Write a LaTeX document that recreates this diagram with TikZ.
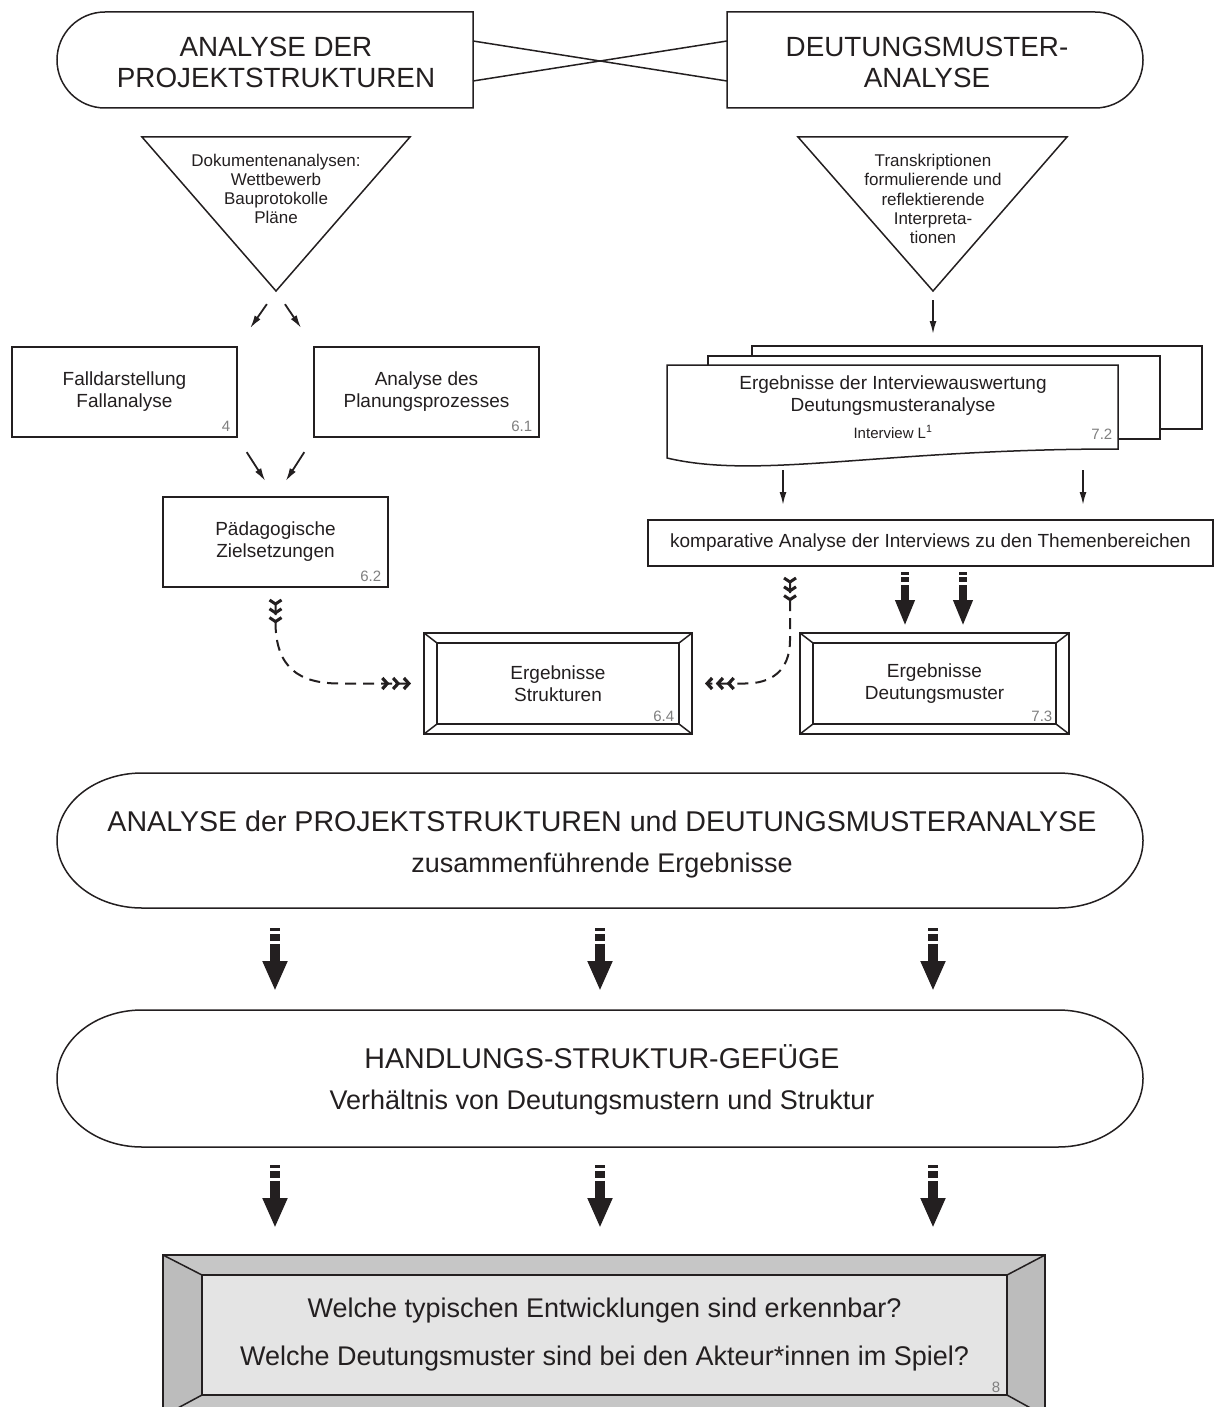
\documentclass[tikz,border=0pt]{standalone}
\usepackage{fontspec}
\setmainfont{Liberation Sans}
\usetikzlibrary{arrows.meta,calc,shapes.misc}
\definecolor{ink}{HTML}{231F20}
\definecolor{numgray}{HTML}{7F7F7F}
\definecolor{bevtop}{HTML}{C6C6C6}
\definecolor{bevside}{HTML}{BCBCBC}
\definecolor{qfill}{HTML}{E4E4E4}
\newcommand\myfs[2]{\fontsize{#1}{#2}\selectfont}
\newcommand\bevelframe[3]{%
  \draw ($(#1.north west)+(#2,#3)$) rectangle ($(#1.south east)+(-#2,-#3)$);
  \draw (#1.north west) -- ++(#2,#3);
  \draw (#1.north east) -- ++(-#2,#3);
  \draw (#1.south west) -- ++(#2,-#3);
  \draw (#1.south east) -- ++(-#2,-#3);}
\begin{document}
\begin{tikzpicture}[x=1pt,y=-1pt,line width=1.5pt,color=ink,
  title/.style={align=center,inner sep=0pt,font=\myfs{27.8}{31}},
  half/.style={draw,rounded rectangle,minimum width=416pt,minimum height=96pt,inner sep=0pt,outer sep=0pt},
  box/.style={draw,rectangle,inner sep=0pt,outer sep=0pt,align=center,font=\myfs{19}{22},fill=white},
  num/.style={inner sep=0pt,text=numgray,font=\myfs{15}{17},anchor=south east},
  tri/.style={align=center,inner sep=0pt,font=\myfs{17}{19.25}},
  big/.style={align=center,inner sep=0pt,font=\myfs{27}{41}},
  thinarr/.style={line width=1.8pt,-{Latex[length=13pt,width=7pt]}},
  bigarr/.style={line width=10pt,dash pattern=on 2.7pt off 3.3pt on 6.5pt off 3.3pt on 200pt,-{Triangle[length=30pt,width=23pt]}},
  midarr/.style={line width=8pt,dash pattern=on 3.3pt off 1.7pt on 5pt off 3pt on 200pt,-{Triangle[length=26pt,width=18pt]}},
  dashconn/.style={line width=2pt,dash pattern=on 11pt off 7pt,
    {Straight Barb[reversed,length=4pt,width=12pt,line width=3pt,sep=1.5pt]Straight Barb[reversed,length=4pt,width=12pt,line width=3pt,sep=1.5pt]Straight Barb[reversed,length=4pt,width=12pt,line width=3pt,sep=1.5pt]}-{Straight Barb[length=5pt,width=11pt,line width=3.2pt,sep=2pt]Straight Barb[length=5pt,width=11pt,line width=3.2pt,sep=2pt]Straight Barb[length=5pt,width=11pt,line width=3.2pt,sep=2pt]}}
]
\useasboundingbox (0,0) rectangle (1215,1407);

% --- top titles
\node[half,rounded rectangle right arc=none] (apr) at (265,60) {};
\node[title] (aprT) at (276,62.5) {ANALYSE DER\\PROJEKTSTRUKTUREN};
\node[half,rounded rectangle left arc=none] (dma) at (935,60) {};
\node[title] (dmaT) at (927,62.5) {DEUTUNGSMUSTER-\\ANALYSE};
\draw ($(apr.east)+(0,-19)$) -- ($(dma.west)+(0,21)$);
\draw ($(apr.east)+(0,21)$) -- ($(dma.west)+(0,-19)$);

% --- triangles
\draw (142,137) -- (410,137) -- (276,291) -- cycle;
\coordinate (t1) at (276,291);
\node[tri] (t1T) at (276,189) {Dokumentenanalysen:\\Wettbewerb\\Bauprotokolle\\Pläne};
\draw (798,137) -- (1067,137) -- (933,291) -- cycle;
\coordinate (t2) at (933,291);
\node[tri] (t2T) at (933,199) {Transkriptionen\\formulierende und\\reflektierende\\Interpreta-\\tionen};

% --- left boxes
\node[box,minimum width=225pt,minimum height=90pt] (fall) at (124.5,392) {Falldarstellung\\Fallanalyse};
\node[num] (n4) at ($(fall.south east)+(-6,-5)$) {4};
\node[box,minimum width=225pt,minimum height=90pt] (plan) at (426.5,392) {Analyse des\\Planungsprozesses};
\node[num] (n61) at ($(plan.south east)+(-6,-5)$) {6.1};
\node[box,minimum width=225pt,minimum height=90pt] (paed) at (275.5,542) {Pädagogische\\Zielsetzungen};
\node[num] (n62) at ($(paed.south east)+(-6,-5)$) {6.2};

\draw[thinarr,shorten <=16pt,shorten >=23pt] (t1) -- (fall.north east);
\draw[thinarr,shorten <=16pt,shorten >=23pt] (t1) -- (plan.north west);
\draw[thinarr,shorten <=18pt,shorten >=19pt] (fall.south east) -- (paed.north);
\draw[thinarr,shorten <=18pt,shorten >=19pt] (plan.south west) -- (paed.north);

% --- stacked documents
\draw[fill=white] (752,346) rectangle (1202,429);
\draw[fill=white] (708,356) rectangle (1160,439);
\draw[fill=white] (667,365) -- (1118,365) -- (1118,449) .. controls (880,449) and (760,480) .. (667,458) -- cycle;
\node[align=center,inner sep=0pt,font=\myfs{19}{22}] (docT) at (893,396) {Ergebnisse der Interviewauswertung\\Deutungsmusteranalyse};
\node[inner sep=0pt,font=\myfs{15}{18}] (docI) at (893,432) {Interview L\textsuperscript{1}};
\node[num] (n72) at (1113,440) {7.2};
\coordinate (docTop) at (933,365);
\draw[thinarr,shorten <=9pt,shorten >=31pt] (t2) -- (docTop);

\node[box,minimum width=565pt,minimum height=46pt] (komp) at (930.5,543) {komparative Analyse der Interviews zu den Themenbereichen};
\coordinate (dL) at (783,470);
\coordinate (dR) at (1083,470);
\draw[thinarr,shorten >=15pt] (dL) -- (dL |- komp.north);
\draw[thinarr,shorten >=15pt] (dR) -- (dR |- komp.north);
\coordinate (kd) at (790,566);

% --- Ergebnisse boxes
\node[box,minimum width=268pt,minimum height=101pt] (ergS) at (558,683.5) {Ergebnisse\\Strukturen};
\bevelframe{ergS}{13}{10}
\node[num] (n64) at ($(ergS.south east)+(-17,-12)$) {6.4};
\node[box,minimum width=269pt,minimum height=101pt] (ergD) at (934.5,683.5) {Ergebnisse\\Deutungsmuster};
\bevelframe{ergD}{13}{10}
\node[num] (n73) at ($(ergD.south east)+(-16,-12)$) {7.3};

\draw[midarr] ($(komp.south)+(-25.5,6)$) -- ($(ergD.north)+(-29.5,-7)$);
\draw[midarr] ($(komp.south)+(32.5,6)$) -- ($(ergD.north)+(28.5,-7)$);

% --- dashed connectors
\draw[dashconn] ($(paed.south)+(0,10)$) -- ++(0,25) .. controls +(0,46) and +(-40,0) .. ($(paed.south |- ergS.west)+(64,0)$) -- ($(ergS.west)+(-11,0)$);
\draw[dashconn] ($(kd)+(0,9)$) -- ++(0,65) .. controls +(0,32) and +(25,0) .. ($(kd |- ergS.east)+(-45,0)$) -- ($(ergS.east)+(11,0)$);

% --- stadium 1
\draw (142,773) -- (1058,773) arc[start angle=-90,end angle=90,x radius=85,y radius=67.5] -- (142,908) arc[start angle=90,end angle=270,x radius=85,y radius=67.5] -- cycle;
\node[big] (s1T) at (602,844) {{\myfs{28.6}{41}ANALYSE der PROJEKTSTRUKTUREN und DEUTUNGSMUSTERANALYSE}\\zusammenführende Ergebnisse};
\coordinate (s1b) at (600,908);

% --- stadium 2
\draw (142,1010) -- (1058,1010) arc[start angle=-90,end angle=90,x radius=85,y radius=68.5] -- (142,1147) arc[start angle=90,end angle=270,x radius=85,y radius=68.5] -- cycle;
\node[big] (s2T) at (602,1079.5) {{\myfs{28.6}{41}HANDLUNGS-STRUKTUR-GEFÜGE}\\Verhältnis von Deutungsmustern und Struktur};
\coordinate (s2t) at (600,1010);
\coordinate (s2b) at (600,1147);
\coordinate (qt) at (600,1255);

\foreach \dx in {-325,0,333} {
  \draw[bigarr] ($(s1b)+(\dx,20)$) -- ($(s2t)+(\dx,-19)$);
  \draw[bigarr] ($(s2b)+(\dx,18)$) -- ($(qt)+(\dx,-27)$);
}

% --- final box
\fill[bevtop] (163,1255) -- (1045,1255) -- (1007,1275) -- (202,1275) -- cycle;
\fill[bevtop] (163,1416) -- (1045,1416) -- (1007,1395) -- (202,1395) -- cycle;
\fill[bevside] (163,1255) -- (202,1275) -- (202,1395) -- (163,1416) -- cycle;
\fill[bevside] (1045,1255) -- (1007,1275) -- (1007,1395) -- (1045,1416) -- cycle;
\draw (163,1255) rectangle (1045,1416);
\node[draw,fill=qfill,minimum width=805pt,minimum height=120pt,inner sep=0pt,outer sep=0pt,align=center,font=\myfs{27}{48}] (q) at (604.5,1335) {Welche typischen Entwicklungen sind erkennbar?\\Welche Deutungsmuster sind bei den Akteur*innen im Spiel?};
\draw (q.north west) -- (163,1255);
\draw (q.north east) -- (1045,1255);
\draw (q.south west) -- (163,1416);
\draw (q.south east) -- (1045,1416);
\node[num] (n8) at ($(q.south east)+(-6,-2)$) {8};
\end{tikzpicture}
\end{document}
